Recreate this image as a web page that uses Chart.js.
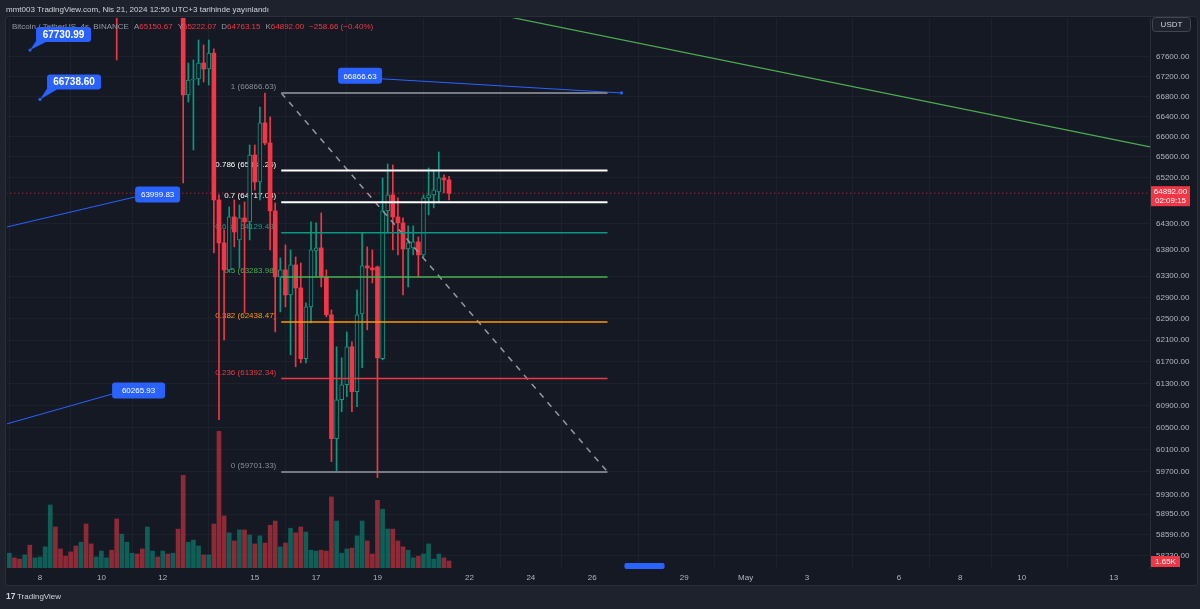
<!DOCTYPE html>
<html><head><meta charset="utf-8">
<script src="https://cdn.jsdelivr.net/npm/chart.js@4.4.1/dist/chart.umd.min.js"></script>
<style>html,body{margin:0;padding:0;background:#1e222d;overflow:hidden}canvas{display:block}</style>
</head><body>
<canvas id="c" width="1200" height="609"></canvas>
<script>
// ---- data (4h candles, BTC/USDT, days are April day numbers) ----
const firstCandleDay = 6.8333;
const candleStepDays = 1/6;
const opens = [69300,69500,69700,69400,69200,69600,69300,69800,70200,71000,72300,71600,71200,70800,70500,69800,70300,69400,69000,69300,69700,69900,69400,68700,69500,70300,70600,70300,70000,70700,70900,70500,70800,70400,70600,
69900,66827,67127,67147,67469,67348,67671,64761,63934,63420,64433,63991,64414,64337,65638,65110,66270,65874,64549,63287,63420,62947,63514,63079,61756,62722,63781,63838,63287,62572,60298,61004,61278,61978,61150,62591,63496,63457,63476,61756,64549,64858,64433,64318,63819,63838,63953,63705,64800,64858,64916,65190,65150.67];
const highs = [69650,69900,69800,69500,69750,69700,69900,70300,71200,72700,72500,71800,71400,71000,70700,70500,70400,69600,69400,69800,70000,70000,69600,69600,70400,70800,70700,70400,70900,71100,71000,70900,70900,70700,70700,
70150,67469,67530,67935,67834,67935,67753,64858,64183,64626,64761,64665,64722,65835,65835,66587,66866.63,66389,64703,63648,63896,63800,63667,63552,62797,64337,64318,64510,63420,62666,61978,61774,62255,62070,63042,64126,63857,63800,63496,65188,65462,65442,64800,64414,64260,64260,64049,64858,65384,65345,65697,65247,65222.07];
const lows = [69100,69350,69250,69000,69100,69100,69200,69700,70100,70900,71300,71000,70600,70300,69600,69700,69100,68800,68900,69200,69500,69300,67530,68500,69400,70200,70100,69800,69900,70600,70400,70400,70300,70300,69700,
65091,66687,65737,67026,67087,67026,63743,60641,62107,63382,63857,63457,62610,63991,64955,64761,65835,63800,62255,62629,62722,61829,61608,61682,61682,62423,63287,63098,62535,59886,59701.33,60786,61059,60786,60877,61590,62293,63173,59601,61737,64126,63800,63705,62947,63098,63705,63287,63667,64472,64607,64703,64897,64763.15];
const closes = [69500,69700,69400,69200,69600,69300,69800,70200,71000,72300,71600,71200,70800,70500,69800,70300,69400,69000,69300,69700,69900,69400,68700,69500,70300,70600,70300,70000,70700,70900,70500,70800,70400,70600,69900,
66827,67127,67147,67469,67348,67671,64761,63934,63420,64433,64145,64414,64337,65638,65110,66270,65874,64549,63287,63420,62947,63514,63079,61756,62722,63800,63838,63287,62572,60298,61004,61278,61978,61150,62572,63496,63457,63420,61774,64549,64858,64433,64318,63819,63934,63953,63705,64800,64858,64955,65190,65150.66,64892.00];
const volumesK = [4.7,3.5,2.4,2.1,3.1,5.4,2.4,2.6,5.0,14.9,9.7,4.5,2.8,3.8,5.2,6.1,10.4,5.7,2.6,4.0,2.4,4.2,11.6,8.0,6.1,3.5,3.3,4.5,9.7,4.0,2.6,4.0,3.3,3.5,9.2,21.9,6.1,6.6,5.2,3.1,3.1,10.4,32.3,12.3,8.3,6.4,9.0,9.0,7.8,5.7,7.6,5.9,10.1,11.1,5.0,5.9,9.4,8.3,9.7,8.5,4.2,4.0,4.2,4.0,16.8,11.1,3.5,4.5,4.7,7.6,11.1,6.4,3.3,16.0,13.9,9.2,9.2,6.4,5.0,4.2,2.4,2.8,3.3,5.7,2.1,3.3,2.4,1.65];

const dateTickDays = [8,10,12,15,17,19,22,24,26,29,31,33,36,38,40,43];
const dateTickLabels = ['8','10','12','15','17','19','22','24','26','29','May','3','6','8','10','13'];
const priceTicks = [67600,67200,66800,66400,66000,65600,65200,64300,63800,63300,62900,62500,62100,61700,61300,60900,60500,60100,59700,59300,58950,58590,58230];

const fibHigh = 66866.63, fibLow = 59701.33;
const fibStartDay = 15.863, fibEndDay = 26.499;
const fibLevels = [1, 0.786, 0.7, 0.618, 0.5, 0.382, 0.236, 0];
const fibValues = [66866.63, 65333.26, 64717.04, 64129.48, 63283.98, 62438.47, 61392.34, 59701.33];
const fibColors = ['#787b86','#ffffff','#ffffff','#089981','#4caf50','#ff9800','#f23645','#787b86'];
const fibLabelColors = ['#8a8d97','#ffffff','#ffffff','#1f9a86','#4caf50','#ff9800','#f23645','#8a8d97'];

const lastPrice = 64892.00;
const greenLineDays = [22.5, 44.183], greenLinePrices = [68506, 65796];
const blueLine1Days = [6.923, 11.10], blueLine1Prices = [64240, 64819];
const blueLine2Days = [6.923, 10.349], blueLine2Prices = [60566, 61108];
const blueLine3Days = [19.15, 26.956], blueLine3Prices = [67150, 66866.63];

// ---- derived ----
const UP = '#089981', DN = '#f23645', PANE = '#151924';
const xs = opens.map((_, i) => firstCandleDay + i * candleStepDays);
const isUp = opens.map((o, i) => closes[i] >= o);
const FONT = '"Liberation Sans",Arial,sans-serif';
const font = (s, w) => `${w || ''} ${s}px ${FONT}`;

function lineDs(days, prices, color, width, dash, extra) {
  return Object.assign({
    type: 'line', yAxisID: 'y', order: 1, clip: 0,
    data: days.map((d, k) => ({x: d, y: prices[k]})),
    borderColor: color, borderWidth: width, borderDash: dash || [],
    pointRadius: 0, fill: false, tension: 0
  }, extra || {});
}

const datasets = [
  {type: 'bar', yAxisID: 'yv', order: 10, clip: 0, grouped: false, barThickness: 4,
   data: volumesK.map((v, i) => ({x: xs[i], y: v})),
   backgroundColor: isUp.map(u => u ? 'rgba(8,153,129,0.55)' : 'rgba(242,54,69,0.55)')},
  lineDs([6.9, 44.2], [lastPrice, lastPrice], 'rgba(242,54,69,0.85)', 1, [1, 3], {order: 9}),
  {type: 'bar', yAxisID: 'y', order: 8, clip: 0, grouped: false, barThickness: 1,
   data: opens.map((o, i) => ({x: xs[i], y: [lows[i], highs[i]]})),
   backgroundColor: isUp.map(u => u ? UP : DN)},
  {type: 'bar', yAxisID: 'y', order: 7, clip: 0, grouped: false, barThickness: 4, minBarLength: 1,
   data: opens.map((o, i) => ({x: xs[i], y: [Math.min(o, closes[i]), Math.max(o, closes[i])]})),
   backgroundColor: isUp.map(u => u ? PANE : DN),
   borderColor: isUp.map(u => u ? UP : DN),
   borderWidth: isUp.map(u => u ? 1 : 0), borderSkipped: false}
];
fibValues.forEach((v, k) => datasets.push(lineDs([fibStartDay, fibEndDay], [v, v], fibColors[k], (k === 0 || k === 7 || k === 1 || k === 2) ? 2 : 1.5)));
datasets.push(lineDs([fibStartDay, fibEndDay], [fibHigh, fibLow], '#9598a1', 1.5, [6, 6]));
datasets.push(lineDs(greenLineDays, greenLinePrices, '#4caf50', 1.2));
datasets.push(lineDs(blueLine1Days, blueLine1Prices, '#2962ff', 1));
datasets.push(lineDs(blueLine2Days, blueLine2Prices, '#2962ff', 1));
datasets.push(lineDs(blueLine3Days, blueLine3Prices, '#2962ff', 1));

function rrect(ctx, x, y, w, h, r) {
  ctx.beginPath();
  ctx.moveTo(x + r, y); ctx.lineTo(x + w - r, y); ctx.quadraticCurveTo(x + w, y, x + w, y + r);
  ctx.lineTo(x + w, y + h - r); ctx.quadraticCurveTo(x + w, y + h, x + w - r, y + h);
  ctx.lineTo(x + r, y + h); ctx.quadraticCurveTo(x, y + h, x, y + h - r);
  ctx.lineTo(x, y + r); ctx.quadraticCurveTo(x, y, x + r, y); ctx.closePath();
}

const decor = {
  id: 'decor',
  beforeDraw(chart) {
    const ctx = chart.ctx;
    ctx.save();
    ctx.fillStyle = '#1e222d'; ctx.fillRect(0, 0, 1200, 609);
    ctx.fillStyle = PANE; rrect(ctx, 6, 17, 1191, 568, 3); ctx.fill();
    ctx.strokeStyle = '#2a2e39'; ctx.lineWidth = 1; rrect(ctx, 5.5, 16.5, 1192, 569, 3); ctx.stroke();
    ctx.restore();
  },
  beforeDatasetsDraw(chart) {
    const ctx = chart.ctx, X = v => chart.scales.x.getPixelForValue(v), Y = v => chart.scales.y.getPixelForValue(v);
    ctx.save();
    ctx.font = font(8); ctx.textAlign = 'right'; ctx.textBaseline = 'middle';
    fibLevels.forEach((lv, k) => {
      ctx.fillStyle = fibLabelColors[k];
      ctx.fillText(`${lv} (${fibValues[k].toFixed(2)})`, X(fibStartDay) - 5, Y(fibValues[k]) - 6);
    });
    ctx.restore();
  },
  afterDatasetsDraw(chart) {
    const ctx = chart.ctx, X = v => chart.scales.x.getPixelForValue(v), Y = v => chart.scales.y.getPixelForValue(v);
    const ca = chart.chartArea;
    ctx.save();
    // header
    ctx.textBaseline = 'middle'; ctx.textAlign = 'left';
    ctx.font = font(8); ctx.fillStyle = '#d1d4dc';
    ctx.fillText('mmt003 TradingView.com, Nis 21, 2024 12:50 UTC+3 tarihinde yayınlandı', 6, 10);
    let x = 12;
    const seg = (t, c, gap) => { ctx.fillStyle = c; ctx.fillText(t, x, 27); x += ctx.measureText(t).width + (gap || 0); };
    seg('Bitcoin / TetherUS, 4s, BINANCE', '#9598a1', 5);
    [['A', opens[87]], ['Y', highs[87]], ['D', lows[87]], ['K', closes[87]]].forEach(([l, v]) => {
      seg(l, '#9598a1'); seg(v.toFixed(2), '#f23645', 5);
    });
    const ch = closes[87] - closes[86];
    seg(`${ch < 0 ? '−' : '+'}${Math.abs(ch).toFixed(2)} (${ch < 0 ? '−' : '+'}${Math.abs(ch / closes[86] * 100).toFixed(2)}%)`, '#f23645');

    // callout price labels
    const callout = (day, price, text, dx, dy, w, h, fs, bold) => {
      const px = X(day), py = Y(price);
      ctx.fillStyle = '#2962ff';
      ctx.beginPath(); ctx.arc(px, py, 1.6, 0, Math.PI * 2); ctx.fill();
      ctx.beginPath(); ctx.moveTo(px, py); ctx.lineTo(px + dx + 2, py + dy + h - 4); ctx.lineTo(px + dx + 10, py + dy + h); ctx.closePath(); ctx.fill();
      rrect(ctx, px + dx, py + dy, w, h, 3); ctx.fill();
      ctx.fillStyle = '#ffffff'; ctx.font = font(fs, bold ? 'bold' : ''); ctx.textAlign = 'center';
      ctx.fillText(text, px + dx + w / 2, py + dy + h / 2 + 0.5);
    };
    callout(7.674, 67730.99, '67730.99', 6, -23, 55, 15, 10, true);
    callout(8.0, 66738.60, '66738.60', 7, -25, 54, 15, 10, true);
    const box = (px, pyc, text, w) => {
      ctx.fillStyle = '#2962ff'; rrect(ctx, px, pyc - 8, w, 16, 3); ctx.fill();
      ctx.fillStyle = '#ffffff'; ctx.font = font(8); ctx.textAlign = 'center';
      ctx.fillText(text, px + w / 2, pyc + 0.5);
    };
    box(X(blueLine1Days[1]), Y(blueLine1Prices[1]) - 2.5, '63999.83', 45);
    box(X(blueLine2Days[1]), Y(blueLine2Prices[1]) - 3.5, '60265.93', 53);
    box(X(blueLine3Days[0]) - 44, Y(blueLine3Prices[0]) - 3, '66866.63', 44);
    ctx.fillStyle = '#2962ff'; ctx.beginPath(); ctx.arc(X(blueLine3Days[1]), Y(blueLine3Prices[1]), 1.6, 0, Math.PI * 2); ctx.fill();

    // time-axis selection marker
    ctx.fillStyle = '#2962ff'; rrect(ctx, X(27.05), ca.bottom - 5, X(28.36) - X(27.05), 6, 2); ctx.fill();
    ctx.restore();
  },
  afterDraw(chart) {
    const ctx = chart.ctx, Y = v => chart.scales.y.getPixelForValue(v), YV = v => chart.scales.yv.getPixelForValue(v);
    const ax = chart.chartArea.right;
    ctx.save();
    ctx.textBaseline = 'middle';
    // last price label
    const py = Y(lastPrice);
    ctx.fillStyle = '#f23645'; ctx.fillRect(ax + 1, py - 7, 39, 20);
    ctx.fillStyle = '#ffffff'; ctx.font = font(8); ctx.textAlign = 'center';
    ctx.fillText(lastPrice.toFixed(2), ax + 20.5, py - 1.5);
    ctx.fillText('02:09:15', ax + 20.5, py + 8);
    // volume label
    const vy = YV(volumesK[87]);
    ctx.fillStyle = '#f23645'; ctx.fillRect(ax + 1, vy - 5, 29, 11);
    ctx.fillStyle = '#ffffff'; ctx.fillText(volumesK[87].toFixed(2) + 'K', ax + 15.5, vy + 0.5);
    // USDT button
    ctx.fillStyle = '#1e222d'; rrect(ctx, ax + 2.5, 17.5, 38, 14, 3); ctx.fill();
    ctx.strokeStyle = '#434651'; ctx.lineWidth = 1; ctx.stroke();
    ctx.fillStyle = '#d1d4dc'; ctx.fillText('USDT', ax + 21.5, 25);
    // logo
    ctx.textAlign = 'left'; ctx.fillStyle = '#d1d4dc';
    ctx.font = font(8.5, 'bold'); ctx.fillText('17', 6, 597);
    ctx.font = font(8); ctx.fillText('TradingView', 17, 597);
    ctx.restore();
  }
};

new Chart(document.getElementById('c'), {
  type: 'bar',
  data: {datasets},
  options: {
    responsive: false, animation: false, events: [],
    layout: {padding: {left: 7, top: 18, right: 0, bottom: 24}},
    plugins: {legend: {display: false}, tooltip: {enabled: false}},
    scales: {
      x: {
        type: 'linear', min: 6.9233, max: 44.183, offset: false, bounds: 'data',
        afterBuildTicks: s => { s.ticks = dateTickDays.map(v => ({value: v})); },
        afterFit: s => { s.height = 17; },
        ticks: {autoSkip: false, maxRotation: 0, padding: 5, color: '#b2b5be', font: {family: FONT, size: 8},
                callback: v => dateTickLabels[dateTickDays.indexOf(v)]},
        grid: {color: '#1d212c', drawTicks: false},
        border: {display: false}
      },
      y: {
        type: 'logarithmic', position: 'right', min: 58010, max: 68383, bounds: 'data',
        afterBuildTicks: s => { s.ticks = priceTicks.map(v => ({value: v})); },
        afterFit: s => { s.width = 50; },
        ticks: {autoSkip: false, padding: 6, color: '#b2b5be', font: {family: FONT, size: 8},
                callback: v => Number(v).toFixed(2)},
        grid: {color: '#1d212c', drawTicks: false},
        border: {display: true, color: '#2a2e39'}
      },
      yv: {type: 'linear', display: false, min: 0, max: 130}
    }
  },
  plugins: [decor]
});
</script>
</body></html>
